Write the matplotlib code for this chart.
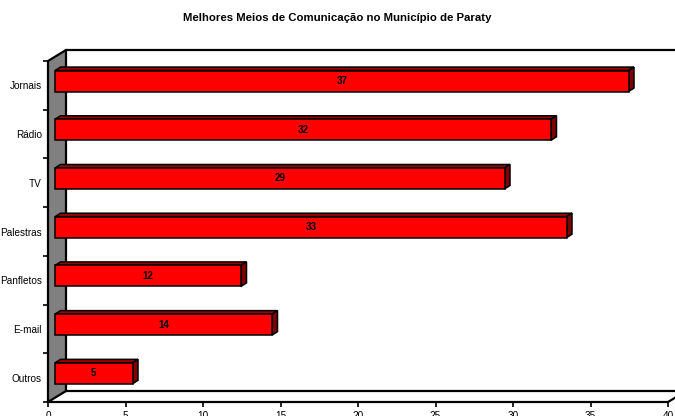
import matplotlib
matplotlib.use("Agg")
import matplotlib.pyplot as plt
from matplotlib.patches import Polygon, Rectangle

plt.rcParams['font.family'] = ['Liberation Sans', 'DejaVu Sans']

# Data
categories = ["Jornais", "Rádio", "TV", "Palestras", "Panfletos", "E-mail", "Outros"]
values = [37, 32, 29, 33, 12, 14, 5]
x_ticks = [0, 5, 10, 15, 20, 25, 30, 35, 40]
title = "Melhores Meios de Comunicação no Município de Paraty"

W, H = 675, 416
fig = plt.figure(figsize=(W / 100, H / 100), dpi=100)

# front plane of the 3-D box, in pixels
left_px, right_px, top_px, bot_px = 48, 668, 61, 402
ax = fig.add_axes([left_px / W, (H - bot_px) / H,
                   (right_px - left_px) / W, (bot_px - top_px) / H])
n = len(categories)
xmax = 40
ax.set_xlim(0, xmax)
ax.set_ylim(-0.5, n - 0.5)
for s in ax.spines.values():
    s.set_visible(False)

ux = (right_px - left_px) / xmax          # px per x unit
uy = (bot_px - top_px) / n                # px per category

def px_x(p):
    return p / ux

def px_y(p):
    return p / uy

# depth of the box
dx, dy = px_x(18), px_y(11)
ylo, yhi = -0.5, n - 0.5
lw = 1.6

# floor
ax.add_patch(Polygon([(0, ylo), (xmax, ylo), (xmax + dx, ylo + dy), (dx, ylo + dy)],
                     closed=True, facecolor='white', edgecolor='none', clip_on=False, zorder=1))
# left wall
ax.add_patch(Polygon([(0, ylo), (dx, ylo + dy), (dx, yhi + dy), (0, yhi)],
                     closed=True, facecolor='#808080', edgecolor='black', lw=lw,
                     clip_on=False, zorder=2, joinstyle='round'))
# back wall edges
ax.plot([dx, xmax + dx], [yhi + dy, yhi + dy], color='black', lw=lw, clip_on=False, zorder=2)
ax.plot([dx, xmax + dx], [ylo + dy, ylo + dy], color='black', lw=lw, clip_on=False, zorder=2)
ax.plot([xmax + dx, xmax + dx], [ylo + dy, yhi + dy], color='black', lw=lw, clip_on=False, zorder=2)
# front floor edge
ax.plot([0, xmax, xmax + dx], [ylo, ylo, ylo + dy], color='black', lw=lw,
        clip_on=False, zorder=3, solid_joinstyle='round')

# bars
ox, oy = px_x(7), px_y(4.3)
bdx, bdy = px_x(5.5), px_y(3.5)
bh = px_y(21)
for i, (cat, v) in enumerate(zip(categories, values)):
    yc = n - 1 - i
    yb = yc + oy - bh / 2
    yt = yc + oy + bh / 2
    ax.add_patch(Polygon([(ox, yt), (ox + v, yt), (ox + v + bdx, yt + bdy), (ox + bdx, yt + bdy)],
                         closed=True, facecolor='#990000', edgecolor='black', lw=1.1,
                         clip_on=False, zorder=4))
    ax.add_patch(Polygon([(ox + v, yb), (ox + v + bdx, yb + bdy), (ox + v + bdx, yt + bdy), (ox + v, yt)],
                         closed=True, facecolor='#800000', edgecolor='black', lw=1.1,
                         clip_on=False, zorder=4))
    ax.add_patch(Rectangle((ox, yb), v, bh, facecolor='#FF0000', edgecolor='black',
                           lw=1.1, clip_on=False, zorder=5))
    ax.text(ox + v / 2, yc + oy, str(v), ha='center', va='center', fontsize=7,
            fontweight='bold', zorder=6)

# axes ticks and labels
ax.set_xticks(x_ticks)
ax.set_xticklabels([str(t) for t in x_ticks], fontsize=7.2)
ax.tick_params(axis='x', direction='out', length=3.8, width=1.2, pad=3)
ax.set_yticks(range(n))
ax.set_yticklabels(categories[::-1], fontsize=7.2)
ax.tick_params(axis='y', which='major', length=0, pad=4.5)
ax.set_yticks([k - 0.5 for k in range(n + 1)], minor=True)
ax.tick_params(axis='y', which='minor', direction='out', length=3.5, width=1.2)
ax.patch.set_visible(False)

fig.text(337 / W, 1 - 18 / H, title, ha='center', va='center', fontsize=8.2, fontweight='bold')

fig.savefig("out.png", dpi=100)
